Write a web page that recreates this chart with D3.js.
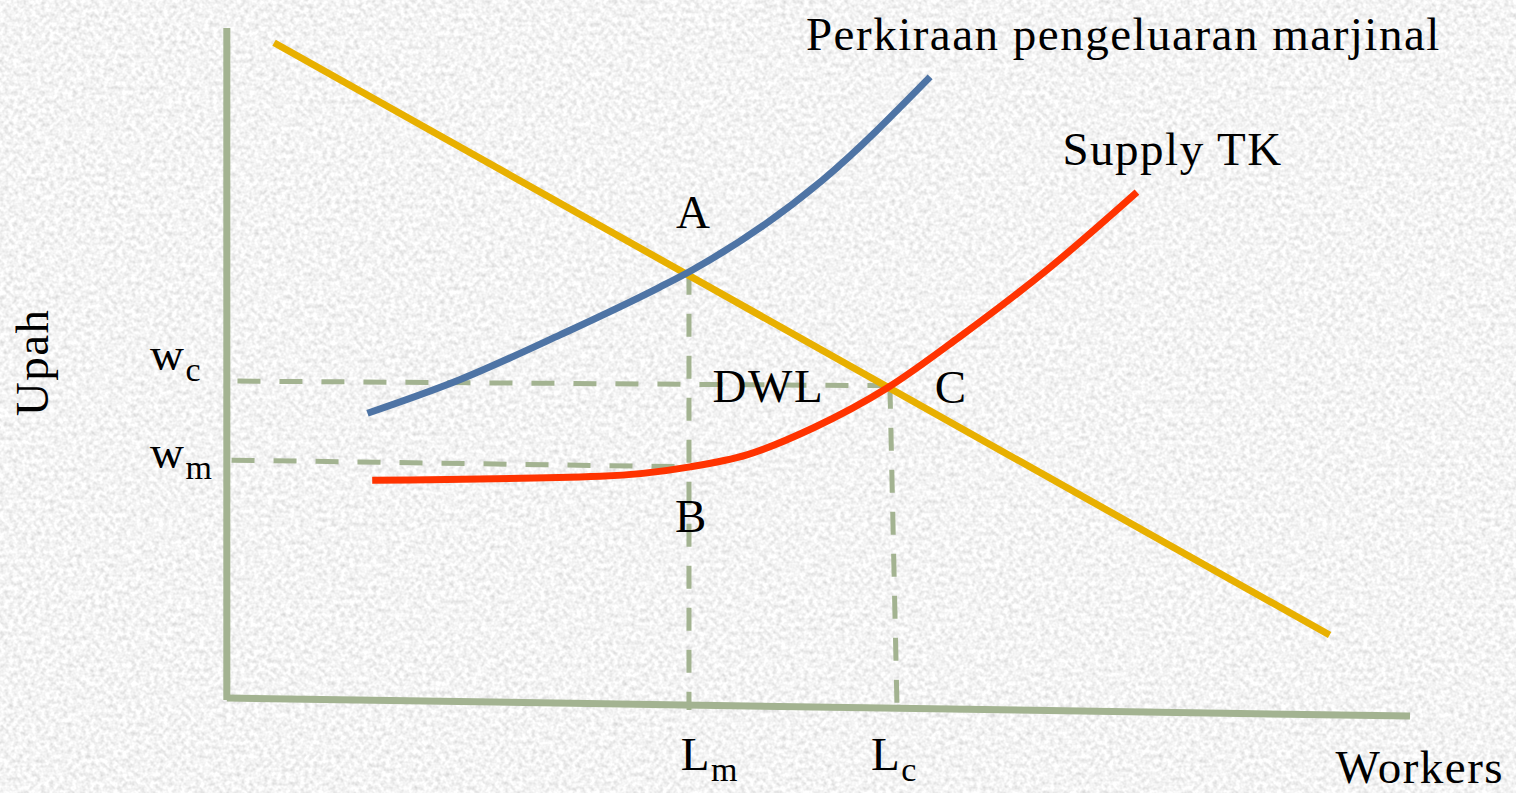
<!DOCTYPE html>
<html>
<head>
<meta charset="utf-8">
<script src="https://cdn.jsdelivr.net/npm/d3@7"></script>
<style>
  html, body { margin: 0; padding: 0; background: #e6e6e6; overflow: hidden; }
  #chart text { font-family: "Liberation Serif", "Times New Roman", serif; fill: #000; letter-spacing: 1.5px; }
</style>
</head>
<body>
<div id="chart"></div>
<script>
// curve points, in chart units (x = workers, y = wage)
var demandLine = [[3.9, 98.1], [93.2, 9.7]];
var marginalCost = [[11.8, 42.8], [19.6, 47.8], [28.1, 54.5], [36.5, 61.6], [39.1, 64.0],
  [50.3, 77.6], [59.4, 93.0]];
var supplyTK = [[12.2, 32.8], [31.5, 33.4], [39.1, 34.8], [43.9, 36.6], [49.5, 40.6],
  [55.8, 46.6], [61.9, 54.2], [69.5, 64.5], [76.9, 75.8]];

// axis lines (x axis is slightly tilted in the original)
var yAxisLine = [[-0.1, 100.3], [-0.1, 0]];
var xAxisLine = [[-0.1, 0.3], [100, -2.4]];

// dashed guide lines
var guides = [
  [[0.8, 47.6], [56.0, 46.9]],   // w_c
  [[0.3, 35.8], [39.1, 34.8]],   // w_m
  [[39.0, 63.9], [39.0, -1.5]],  // L_m
  [[56.0, 46.9], [56.6, -1.0]]   // L_c
];

// labels: [text, subscript, x, y, anchor]
var labels = [
  ["Perkiraan pengeluaran marjinal", "", 48.9, 97.0, "start"],
  ["Supply TK", "", 70.6, 79.9, "start"],
  ["A", "", 39.4, 70.4, "middle"],
  ["DWL", "", 41.0, 44.5, "start"],
  ["C", "", 59.8, 44.3, "start"],
  ["B", "", 39.2, 25.1, "middle"],
  ["w", "c", -6.6, 49.3, "start"],
  ["w", "m", -6.6, 34.6, "start"],
  ["L", "m", 38.3, -10.5, "start"],
  ["L", "c", 54.4, -10.5, "start"],
  ["Workers", "", 93.7, -12.4, "start"]
];
var yTitle = "Upah";

var width = 1516, height = 793;

var x = d3.scaleLinear().domain([0, 100]).range([228, 1410]);
var y = d3.scaleLinear().domain([0, 100]).range([700, 30]);

var svg = d3.select("#chart")
  .append("svg")
  .attr("width", width)
  .attr("height", height);

// grainy grey background
var defs = svg.append("defs");
var noise = defs.append("filter")
  .attr("id", "noise")
  .attr("x", 0).attr("y", 0).attr("width", "100%").attr("height", "100%");
noise.append("feTurbulence")
  .attr("type", "fractalNoise")
  .attr("baseFrequency", 0.22)
  .attr("numOctaves", 2)
  .attr("seed", 7);
noise.append("feColorMatrix")
  .attr("type", "matrix")
  .attr("values", "0.55 0 0 0 0.63  0.55 0 0 0 0.63  0.55 0 0 0 0.63  0 0 0 0 1");

svg.append("rect")
  .attr("width", width)
  .attr("height", height)
  .attr("filter", "url(#noise)");

var line = d3.line().x(function(d) { return x(d[0]); }).y(function(d) { return y(d[1]); });
var curve = d3.line().curve(d3.curveMonotoneX)
  .x(function(d) { return x(d[0]); }).y(function(d) { return y(d[1]); });

// dashed guides
svg.selectAll(".guide")
  .data(guides)
  .enter()
  .append("path")
  .attr("class", "guide")
  .attr("d", line)
  .style("fill", "none")
  .style("stroke", "#a3b391")
  .style("stroke-width", 5)
  .style("stroke-dasharray", "23,19");

// axes
svg.append("path")
  .attr("d", line(yAxisLine))
  .style("stroke", "#a3b391")
  .style("stroke-width", 7)
  .style("fill", "none");
svg.append("path")
  .attr("d", line(xAxisLine))
  .style("stroke", "#a3b391")
  .style("stroke-width", 7)
  .style("fill", "none");

// curves
svg.append("path")
  .attr("d", line(demandLine))
  .style("stroke", "#e8b000")
  .style("stroke-width", 7)
  .style("fill", "none");

svg.append("path")
  .attr("d", curve(marginalCost))
  .style("stroke", "#4e74a5")
  .style("stroke-width", 7)
  .style("fill", "none");

svg.append("path")
  .attr("d", curve(supplyTK))
  .style("stroke", "#ff3300")
  .style("stroke-width", 7)
  .style("fill", "none");

// text labels
var lab = svg.selectAll(".lab")
  .data(labels)
  .enter()
  .append("text")
  .attr("class", "lab")
  .attr("x", function(d) { return x(d[2]); })
  .attr("y", function(d) { return y(d[3]); })
  .attr("text-anchor", function(d) { return d[4]; })
  .style("font-size", "47px");

lab.append("tspan").text(function(d) { return d[0]; });
lab.filter(function(d) { return d[1] !== ""; })
  .append("tspan")
  .attr("dy", 11)
  .style("font-size", "34px")
  .text(function(d) { return d[1]; });

svg.append("text")
  .attr("transform", "translate(" + (x(0) - 180) + "," + y(50.4) + ") rotate(-90)")
  .attr("text-anchor", "middle")
  .style("font-size", "47px")
  .text(yTitle);
</script>
</body>
</html>
